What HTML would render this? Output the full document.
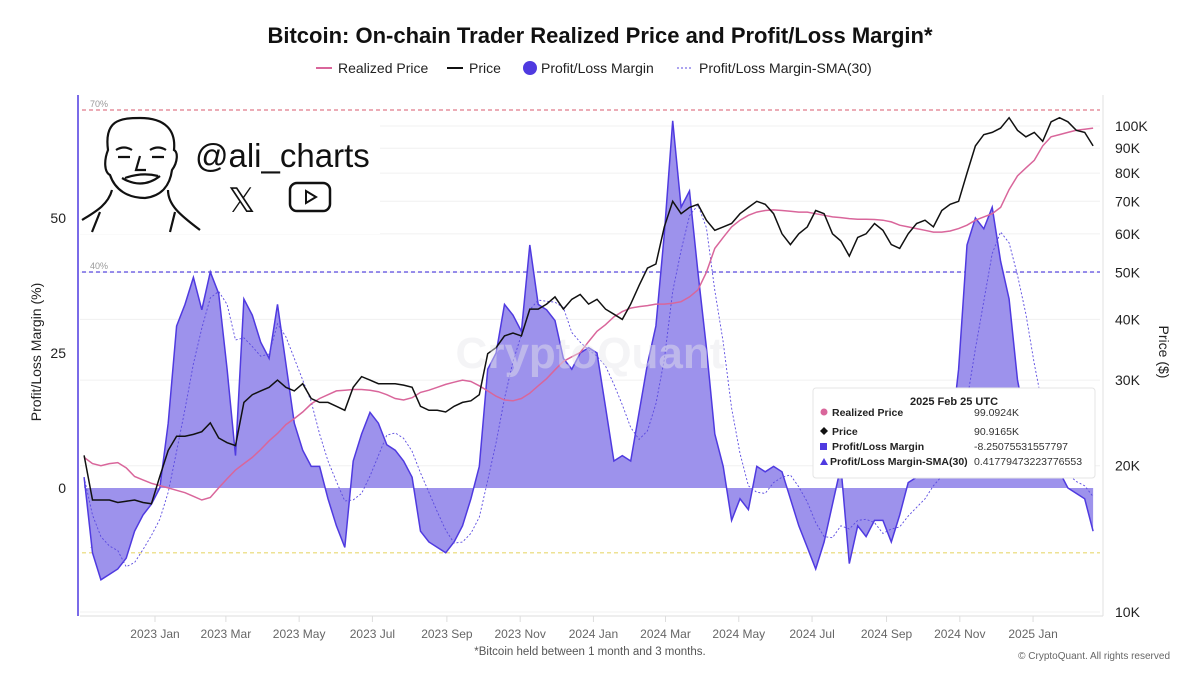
<!DOCTYPE html>
<html><head><meta charset="utf-8">
<style>
body{margin:0;background:#fff;font-family:"Liberation Sans",sans-serif;}
svg text{font-family:"Liberation Sans",sans-serif;}
</style></head>
<body>
<svg id="chart" width="1200" height="675" viewBox="0 0 1200 675" xmlns="http://www.w3.org/2000/svg">
<rect width="1200" height="675" fill="#fff"/>
<text x="600" y="43" text-anchor="middle" font-size="22" font-weight="bold" fill="#111">Bitcoin: On-chain Trader Realized Price and Profit/Loss Margin*</text>
<g font-size="14" fill="#222">
<g><line x1="316" y1="68" x2="332" y2="68" stroke="#d9669b" stroke-width="2"/><text x="338" y="73">Realized Price</text></g>
<g><line x1="447" y1="68" x2="463" y2="68" stroke="#111" stroke-width="2"/><text x="469" y="73">Price</text></g>
<g><circle cx="530" cy="68" r="7" fill="#4f3ae0"/><text x="541" y="73">Profit/Loss Margin</text></g>
<g><line x1="677" y1="68" x2="693" y2="68" stroke="#5a4ae0" stroke-width="1" stroke-dasharray="2,2"/><text x="699" y="73">Profit/Loss Margin-SMA(30)</text></g>
</g>
<g id="grid"></g>
<g id="plot"></g>
<text x="590" y="368" text-anchor="middle" font-size="44" font-weight="bold" fill="#e6e6ea" fill-opacity="0.45">CryptoQuant</text>
<line x1="78" y1="95" x2="78" y2="616" stroke="#4f3ae0" stroke-width="1.5"/>
<line x1="1103" y1="95" x2="1103" y2="616" stroke="#e2e2e2" stroke-width="1"/>
<line x1="80" y1="616" x2="1103" y2="616" stroke="#ddd" stroke-width="1"/>
<g id="axes" font-size="14" fill="#222"></g>
<text transform="translate(41,352) rotate(-90)" text-anchor="middle" font-size="14" fill="#222">Profit/Loss Margin (%)</text>
<text transform="translate(1159,352) rotate(90)" text-anchor="middle" font-size="14" fill="#222">Price ($)</text>
<text x="590" y="655" text-anchor="middle" font-size="11.5" fill="#555">*Bitcoin held between 1 month and 3 months.</text>
<text x="1170" y="659" text-anchor="end" font-size="10" fill="#666">© CryptoQuant. All rights reserved</text>
<g>
<rect x="80" y="114" width="300" height="120" fill="#fff"/>
<g fill="none" stroke="#111" stroke-width="2.2">
<path d="M108 150 C104 120 120 118 140 118 C165 118 176 130 174 150 C178 152 178 162 172 170 C170 185 162 196 145 198 C128 198 115 190 110 175 C104 172 104 160 108 150 Z"/>
<path d="M116 150 Q124 145 132 150 M150 150 Q158 145 166 150 M118 157 L130 157 M152 157 L164 157"/>
<path d="M122 178 Q142 190 160 176 M125 178 Q142 172 158 176"/>
<path d="M140 156 L136 170 L146 170"/>
<path d="M112 190 C108 205 95 212 82 220 M168 190 C168 205 180 215 200 230 M100 212 L92 232 M175 212 L170 232"/>
</g>
<text x="195" y="167" font-size="33" fill="#111">@ali_charts</text>
<text x="228" y="212" font-size="34" fill="#111">𝕏</text>
<g><rect x="290" y="183" width="40" height="28" rx="7" fill="none" stroke="#111" stroke-width="2.5"/><path d="M306 191 L316 197 L306 203 Z" fill="none" stroke="#111" stroke-width="2"/></g>
</g>
<g>
<rect x="813" y="388" width="282" height="90" rx="3" fill="#fff" stroke="#e4e4e4"/>
<text x="954" y="405" text-anchor="middle" font-size="11" font-weight="bold" fill="#222">2025 Feb 25 UTC</text>
<g font-size="10.5" fill="#222" font-weight="bold">
<circle cx="824" cy="412" r="3.5" fill="#d9669b"/><text x="832" y="416">Realized Price</text>
<path d="M824 427 L828 431 L824 435 L820 431 Z" fill="#111"/><text x="832" y="435">Price</text>
<rect x="820" y="443" width="7" height="7" fill="#4f3ae0"/><text x="832" y="450">Profit/Loss Margin</text>
<path d="M824 458 L828 465 L820 465 Z" fill="#4f3ae0"/><text x="830" y="465">Profit/Loss Margin-SMA(30)</text>
</g>
<g font-size="10.5" fill="#333">
<text x="974" y="416">99.0924K</text><text x="974" y="435">90.9165K</text><text x="974" y="450">-8.25075531557797</text><text x="974" y="465">0.41779473223776553</text>
</g>
</g>
</svg>
<script>
const startDate = "2022-11-03";
const stepDays = 7;
const margin = [2,-12,-17,-16,-15,-13,-8,-5,-3,0,12,30,34,39,33,40,36,22,6,35,32,27,24,34,23,12,7,4,4,-2,-7,-11,5,10,14,12,8,7,5,2,-8,-10,-11,-12,-10,-7,-2,4,22,25,34,32,29,45,34,33,31,24,22,25,26,25,15,5,6,5,14,23,30,47,68,52,55,40,26,10,4,-6,-2,-4,4,3,4,3,-2,-7,-11,-15,-10,-3,4,-14,-7,-9,-6,-6,-10,-5,1,2,2,2,4,8,22,45,50,48,52,42,35,20,12,6,2,2,3,0,-1,-2,-8];
const priceK = [21,17,17,17,16.8,16.9,17,16.8,16.7,19,21.5,23,23,23.2,23.5,24.5,22.8,22.3,22,27,28,28.5,29,30,29,28.5,29.5,27.5,27,27,26.5,26,29,30.5,30,29.5,29.5,29.5,29.3,29,26.5,26,26,25.8,26.5,27,27.2,28,34,35,37,37.5,37,42,42,43,44.5,42,44,45,43,44,42,41,40,43,47,51,52,62,70,66,68,69,64,61,62,63,66,68,70,69,66,60,57,60,62,67,66,60,58,54,59,60,63,61,57,56,60,63,64,62,67,69,70,80,91,96,97,99,104,98,95,97,93,102,104,102,98,97,91];
const realizedK = [20.8,20.2,20,20.2,20.3,19.8,19,18.7,18.4,18.2,18,17.8,17.6,17.3,17,17.2,18,18.8,19.6,20.2,20.8,21.6,22.5,23.3,24.3,25,25.8,26.8,27.5,28,28.5,28.6,28.7,28.7,28.6,28.4,28,27.5,27.3,27.6,28.3,28.6,29,29.4,29.7,30,29.8,29.2,28.5,27.8,27.3,27.2,27.5,28.2,29.2,30.2,31.5,32.8,33.5,34.2,36,37.8,39,40.5,41.5,42.2,42.5,42.7,43,43,43.2,43.5,44.5,46,50,56,59,62,64,65.5,66.5,67,67.2,67,66.8,66.5,66.5,66,65.5,65,64.8,64.5,64.3,64.3,64.2,64,63.5,62.5,62,61.5,61,60.5,60.5,60.8,61.5,62.5,64,65,66,68,74,79,82,85,91,95,96,97,98,98.5,99];
const xTickLabels = ["2023 Jan","2023 Mar","2023 May","2023 Jul","2023 Sep","2023 Nov","2024 Jan","2024 Mar","2024 May","2024 Jul","2024 Sep","2024 Nov","2025 Jan"];
const xTickDates = ["2023-01-01","2023-03-01","2023-05-01","2023-07-01","2023-09-01","2023-11-01","2024-01-01","2024-03-01","2024-05-01","2024-07-01","2024-09-01","2024-11-01","2025-01-01"];
const leftTicks = [0,25,50];
const rightTicks = [10,20,30,40,50,60,70,80,90,100];
const refLevels = [70,40,-12];

const NS="http://www.w3.org/2000/svg";
const DAY=86400000, t0=Date.parse("2023-01-01");
function xDate(ms){return 155+(ms-t0)/DAY*1.2012;}
function xIdx(i){return xDate(Date.parse(startDate)+i*stepDays*DAY);}
function yL(v){return 488-v*5.4;}
function yR(k){return 612-486*Math.log10(k/10);}
function el(tag,attrs,parent){const e=document.createElementNS(NS,tag);for(const k in attrs)e.setAttribute(k,attrs[k]);parent.appendChild(e);return e;}
const plot=document.getElementById('plot'),grid=document.getElementById('grid'),axes=document.getElementById('axes');

rightTicks.forEach(k=>{
  const g=el('line',{x1:80,x2:1100,y1:yR(k),y2:yR(k),stroke:'#f0f0f0'},grid);
  
  
  const t=el('text',{x:1115,y:yR(k)+5},axes);
  
  
  t.textContent=k+'K';
});
leftTicks.forEach(v=>{
  const t=el('text',{x:66,y:yL(v)+5,'text-anchor':'end'},axes);
  
  
  t.textContent=v;
});
const refColors={"70":"#e07a8a","40":"#5a4ae0","-12":"#e8d870"};
refLevels.forEach(v=>{
  const l=el('line',{x1:82,x2:1100,y1:yL(v),y2:yL(v),stroke:refColors[v],'stroke-dasharray':'4,3','stroke-width':1.2},grid);
  
  
  const t=el('text',{x:90,y:yL(v)-3,'font-size':9,fill:'#999'},grid);
  
  
  t.textContent=v+'%';
});
xTickLabels.forEach((lab,i)=>{
  const x=xDate(Date.parse(xTickDates[i]));
  const tk=el('line',{x1:x,x2:x,y1:616,y2:622,stroke:'#ddd'},axes);
  
  
  const t=el('text',{x:x,y:638,'text-anchor':'middle','font-size':12,fill:'#666'},axes);
  
  
  t.textContent=lab;
});
let d='M'+xIdx(0)+','+yL(0);
margin.forEach((v,i)=>{d+=' L'+xIdx(i).toFixed(1)+','+yL(v).toFixed(1);});
d+=' L'+xIdx(margin.length-1)+','+yL(0)+' Z';
const area=el('path',{d:d,fill:'#9d92ec',stroke:'none'},plot);


const ml=el('path',{d:'M'+margin.map((v,i)=>xIdx(i).toFixed(1)+','+yL(v).toFixed(1)).join(' L'),fill:'none',stroke:'#4f3ae0','stroke-width':1.5},plot);


const sma=margin.map((v,i)=>{const s=margin.slice(Math.max(0,i-4),i+1);return s.reduce((a,b)=>a+b,0)/s.length;});
const sl=el('path',{d:'M'+sma.map((v,i)=>xIdx(i).toFixed(1)+','+yL(v).toFixed(1)).join(' L'),fill:'none',stroke:'#5a4ae0','stroke-width':0.9,'stroke-dasharray':'2,2'},plot);


const rl=el('path',{d:'M'+realizedK.map((v,i)=>xIdx(i).toFixed(1)+','+yR(v).toFixed(1)).join(' L'),fill:'none',stroke:'#d9669b','stroke-width':1.5},plot);


const pl=el('path',{d:'M'+priceK.map((v,i)=>xIdx(i).toFixed(1)+','+yR(v).toFixed(1)).join(' L'),fill:'none',stroke:'#111','stroke-width':1.5},plot);


</script>
</body></html>
